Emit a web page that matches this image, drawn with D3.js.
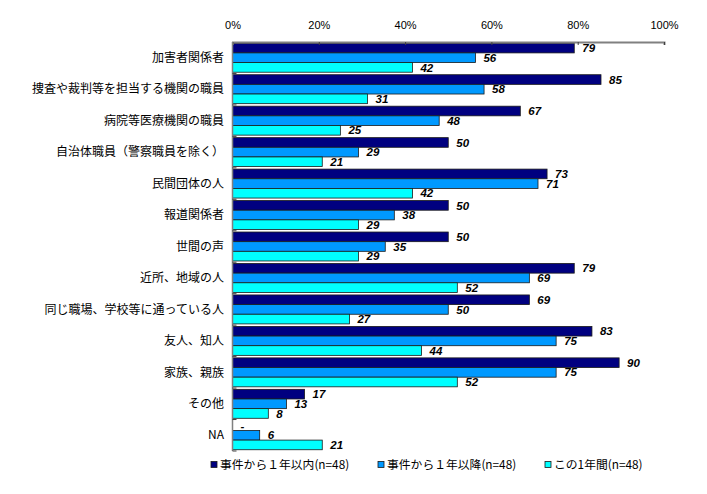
<!DOCTYPE html>
<html>
<head>
<meta charset="utf-8">
<script src="https://cdn.jsdelivr.net/npm/d3@7/dist/d3.min.js"></script>
<style>
  html, body { margin: 0; padding: 0; background: #fff; }
  svg { display: block; }
</style>
</head>
<body>
<svg id="chart" width="707" height="494"></svg>
<script>
const categories = [
  "加害者関係者",
  "捜査や裁判等を担当する機関の職員",
  "病院等医療機関の職員",
  "自治体職員（警察職員を除く）",
  "民間団体の人",
  "報道関係者",
  "世間の声",
  "近所、地域の人",
  "同じ職場、学校等に通っている人",
  "友人、知人",
  "家族、親族",
  "その他",
  "NA"
];
const seriesNames = ["事件から１年以内(n=48)", "事件から１年以降(n=48)", "この1年間(n=48)"];
const within1Year = [79.2, 85.4, 66.7, 50.0, 72.9, 50.0, 50.0, 79.2, 68.8, 83.3, 89.6, 16.7, 0];
const after1Year  = [56.3, 58.3, 47.9, 29.2, 70.8, 37.5, 35.4, 68.8, 50.0, 75.0, 75.0, 12.5, 6.3];
const past1Year   = [41.7, 31.3, 25.0, 20.8, 41.7, 29.2, 29.2, 52.1, 27.1, 43.8, 52.1, 8.3, 20.8];
const tickValues = [0, 20, 40, 60, 80, 100];
const colors = ["#000080", "#0099FF", "#00FFFF"];

const seriesValues = [within1Year, after1Year, past1Year];

const svg = d3.select("#chart");
const mLeft = 232.5, mRight = 664, mTop = 42, mBottom = 451;

const x = d3.scaleLinear().domain([0, 100]).range([mLeft, mRight]);
const y = d3.scaleBand().domain(categories).range([mTop, mBottom]).paddingInner(0).paddingOuter(0);
const inner = d3.scaleBand().domain([0, 1, 2]).range([0, y.bandwidth()]).paddingOuter(0.13).paddingInner(0);

// bars
categories.forEach((c, i) => {
  const g = svg.append("g").attr("transform", `translate(0,${y(c)})`);
  seriesValues.forEach((vals, s) => {
    const v = vals[i];
    if (v > 0) {
      g.append("rect")
        .attr("x", x(0))
        .attr("y", inner(s))
        .attr("width", x(v) - x(0))
        .attr("height", inner.bandwidth())
        .attr("fill", colors[s])
        .attr("stroke", "#1a1a1a")
        .attr("stroke-width", 0.8);
    }
    g.append("text")
      .attr("x", x(v) + 8)
      .attr("y", inner(s) + inner.bandwidth() / 2)
      .attr("dy", "0.36em")
      .attr("font-family", "Liberation Sans, Arial, sans-serif")
      .attr("font-size", 11.5)
      .attr("font-weight", "bold")
      .attr("font-style", "italic")
      .attr("fill", "#000")
      .text(v > 0 ? d3.format(".0f")(v) : "-");
  });
});

// top axis
const xAxis = d3.axisTop(x).tickValues(tickValues).tickFormat(d => d + "%").tickSize(-3).tickPadding(13);
const gx = svg.append("g").attr("transform", `translate(0,${mTop})`).call(xAxis);
gx.select(".domain").attr("stroke", "#808080").attr("stroke-width", 2);
gx.selectAll(".tick line").attr("stroke", "#404040");
gx.selectAll(".tick text")
  .attr("font-family", "Liberation Sans, Arial, sans-serif")
  .attr("font-size", 11)
  .attr("fill", "#000");

// left axis line
svg.append("line")
  .attr("x1", x(0)).attr("x2", x(0))
  .attr("y1", mTop).attr("y2", mBottom)
  .attr("stroke", "#808080").attr("stroke-width", 1.5);

// group boundary ticks
const boundaries = categories.map(c => y(c) + y.bandwidth());
boundaries.forEach(b => {
  svg.append("line")
    .attr("x1", x(0)).attr("x2", x(0) + 4)
    .attr("y1", b).attr("y2", b)
    .attr("stroke", "#404040").attr("stroke-width", 1);
});

// category labels
svg.append("g").selectAll("text").data(categories).join("text")
  .attr("x", 224)
  .attr("y", d => y(d) + y.bandwidth() / 2)
  .attr("dy", "0.35em")
  .attr("text-anchor", "end")
  .attr("font-family", "Noto Sans CJK JP, sans-serif")
  .attr("font-size", 12)
  .attr("fill", "#000")
  .text(d => d);

// legend
const legendX = [211, 378, 545];
seriesNames.forEach((n, s) => {
  const lg = svg.append("g").attr("transform", `translate(${legendX[s]},465)`);
  lg.append("rect")
    .attr("x", 0).attr("y", -3.5)
    .attr("width", 6).attr("height", 6)
    .attr("fill", colors[s])
    .attr("stroke", "#1a1a1a").attr("stroke-width", 0.8);
  lg.append("text")
    .attr("x", 9).attr("y", 0)
    .attr("dy", "0.35em")
    .attr("font-family", "Noto Sans CJK JP, sans-serif")
    .attr("font-size", 11.8)
    .attr("fill", "#000")
    .text(n);
});
</script>
</body>
</html>
